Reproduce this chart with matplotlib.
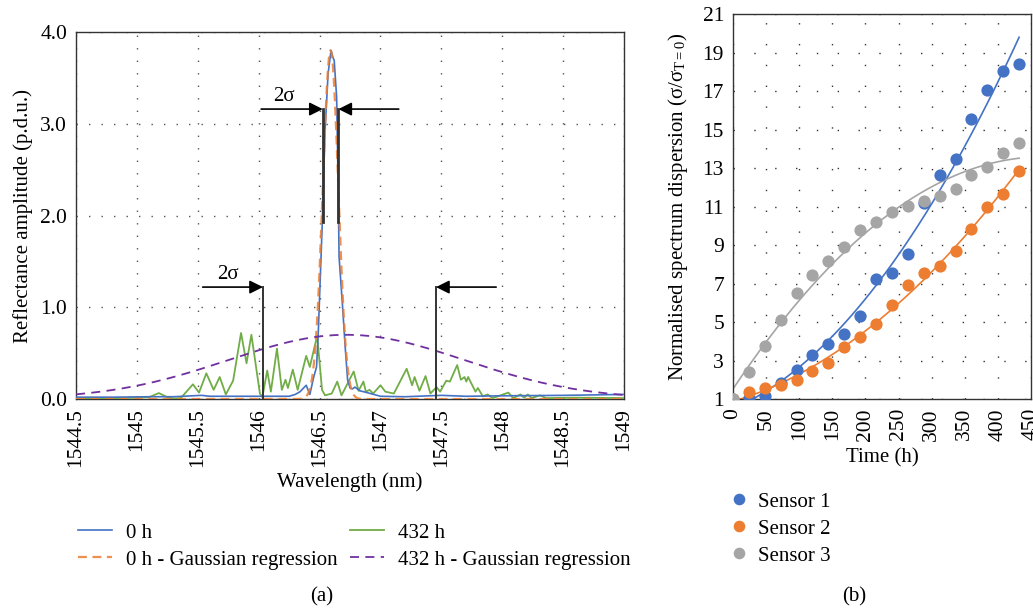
"""
Two panels: FBG reflectance spectra (a) and normalised spectrum dispersion vs time (b).
"""

import matplotlib.pyplot as plt
import numpy as np

plt.rcParams['font.family'] = ['Liberation Serif', 'DejaVu Serif']
plt.rcParams['mathtext.fontset'] = 'stix'

# ---- data: panel (a) ----
wl_0h = [1544.5, 1544.8, 1545.1, 1545.3, 1545.53, 1545.6, 1545.9, 1546.1, 1546.25,
         1546.3, 1546.34, 1546.39, 1546.42, 1546.45, 1546.475, 1546.49, 1546.505,
         1546.52, 1546.545, 1546.57, 1546.594, 1546.61, 1546.62, 1546.64, 1546.654,
         1546.66, 1546.687, 1546.71, 1546.73, 1546.75, 1546.77, 1546.79, 1546.83,
         1546.89, 1547.0, 1547.2, 1547.5, 1547.7, 1548.0, 1548.5, 1549.0]
amp_0h = [0.02, 0.02, 0.025, 0.025, 0.04, 0.03, 0.03, 0.03, 0.03,
          0.05, 0.08, 0.15, 0.05, 0.23, 0.35, 0.75, 1.3,
          1.84, 2.93, 3.55, 3.80, 3.72, 3.69, 3.29, 2.2,
          1.55, 1.04, 0.57, 0.21, 0.12, 0.11, 0.13, 0.09,
          0.07, 0.03, 0.025, 0.04, 0.03, 0.035, 0.04, 0.05]

wl_432h = [1544.5, 1544.9, 1545.1, 1545.18, 1545.25, 1545.3, 1545.36, 1545.46, 1545.51,
           1545.57, 1545.63, 1545.68, 1545.73, 1545.79, 1545.855, 1545.90, 1545.94,
           1546.01, 1546.03, 1546.07, 1546.10, 1546.15, 1546.19, 1546.22, 1546.24,
           1546.28, 1546.32, 1546.39, 1546.42, 1546.48, 1546.52, 1546.545, 1546.60,
           1546.645, 1546.68, 1546.78, 1546.82, 1546.86, 1546.88, 1546.91, 1546.94,
           1547.00, 1547.04, 1547.11, 1547.215, 1547.26, 1547.28, 1547.32, 1547.37,
           1547.41, 1547.46, 1547.49, 1547.54, 1547.57, 1547.63, 1547.66, 1547.69,
           1547.705, 1547.72, 1547.78, 1547.80, 1547.84, 1547.88, 1547.92, 1548.05,
           1548.09, 1548.15, 1548.18, 1548.21, 1548.24, 1548.31, 1548.36, 1548.6, 1549.0]
amp_432h = [0.01, 0.01, 0.02, 0.065, 0.02, 0.005, 0.01, 0.16, 0.07,
            0.28, 0.10, 0.24, 0.05, 0.20, 0.72, 0.39, 0.70,
            0.06, 0.02, 0.31, 0.08, 0.55, 0.10, 0.21, 0.12,
            0.32, 0.10, 0.47, 0.35, 0.69, 0.10, 0.04, 0.06,
            0.19, 0.04, 0.30, 0.09, 0.19, 0.08, 0.10, 0.06,
            0.15, 0.08, 0.06, 0.33, 0.15, 0.24, 0.09, 0.25,
            0.06, 0.13, 0.08, 0.20, 0.19, 0.37, 0.21, 0.24,
            0.19, 0.24, 0.08, 0.12, 0.03, 0.05, 0.01, 0.07,
            0.01, 0.05, 0.015, 0.05, 0.01, 0.04, 0.01, 0.015, 0.01]

# Gaussian regression parameters (amplitude, centre, sigma)
gauss_0h = (3.80, 1546.59, 0.064)
gauss_432h = (0.70, 1546.72, 0.97)

# ---- data: panel (b) ----
time_h = [0, 24, 48, 72, 96, 120, 144, 168, 192, 216, 240, 264, 288, 312, 336, 360, 384, 408, 432]
sensor1 = [1.0, 1.03, 1.16, 1.85, 2.5, 3.29, 3.84, 4.36, 5.33, 7.25, 7.53, 8.53, 11.2,
           12.64, 13.45, 15.55, 17.05, 18.04, 18.4]
sensor2 = [1.0, 1.35, 1.55, 1.73, 1.99, 2.45, 2.89, 3.72, 4.2, 4.88, 5.87, 6.92, 7.56,
           7.93, 8.71, 9.85, 10.99, 11.65, 12.86]
sensor3 = [1.0, 2.39, 3.75, 5.1, 6.49, 7.44, 8.19, 8.88, 9.78, 10.21, 10.73, 11.04, 11.29,
           11.55, 11.93, 12.64, 13.07, 13.76, 14.32]

blue = '#4472C4'
orange = '#ED7D31'
green = '#70AD47'
purple = '#7030A0'
grey = '#A5A5A5'
spine_c = '#333333'
fs = 15
fs_tick = 15.5

fig = plt.figure(figsize=(10.33, 6.12), dpi=100)
fig.patch.set_facecolor('white')

# ══════════ panel (a) ══════════
ax1 = fig.add_axes([0.0736, 0.348, 0.5305, 0.5997])

def gauss(x, p):
    a, mu, s = p
    return a * np.exp(-(x - mu) ** 2 / (2 * s ** 2))

xx = np.linspace(1544.5, 1549.0, 1500)

l_0h, = ax1.plot(wl_0h, amp_0h, color=blue, lw=1.2, zorder=4)
l_432h, = ax1.plot(wl_432h, amp_432h, color=green, lw=1.3, zorder=3)
l_g0, = ax1.plot(xx, gauss(xx, gauss_0h), color=orange, lw=1.6, ls=(0, (4, 2.5)),
                 alpha=0.85, zorder=5)
l_g432, = ax1.plot(xx, gauss(xx, gauss_432h), color=purple, lw=1.3, ls=(0, (5, 3.5)),
                   zorder=5)

ax1.set_xlim(1544.5, 1549.0)
ax1.set_ylim(0, 4.0)
xt = np.arange(1544.5, 1549.01, 0.5)
ax1.set_xticks(xt)
ax1.set_xticklabels([f'{v:g}' for v in xt], rotation=90)
ax1.set_yticks([0, 1, 2, 3, 4])
ax1.set_yticklabels(['0.0', '1.0', '2.0', '3.0', '4.0'])
ax1.tick_params(length=0, labelsize=fs_tick, pad=6.5)
ax1.grid(True, color='#555555', lw=1.0, ls=(0, (1, 8)))
for s in ax1.spines.values():
    s.set_color(spine_c)
    s.set_linewidth(1.0)
ax1.set_xlabel('Wavelength (nm)', fontsize=fs)
ax1.set_ylabel('Reflectance amplitude (p.d.u.)', fontsize=fs)
ax1.xaxis.set_label_coords(0.5, -0.199)
ax1.yaxis.set_label_coords(-0.0785, 0.5)

# 2σ markers
arr = dict(arrowstyle='-|>', color='black', lw=1.2, mutation_scale=20, shrinkA=0, shrinkB=0)
ax1.plot([1546.526, 1546.526], [1.93, 3.16], color=spine_c, lw=2, zorder=6)
ax1.plot([1546.654, 1546.654], [1.93, 3.16], color=spine_c, lw=2, zorder=6)
ax1.annotate('', xy=(1546.526, 3.16), xytext=(1546.02, 3.16), arrowprops=arr)
ax1.annotate('', xy=(1546.654, 3.16), xytext=(1547.15, 3.16), arrowprops=arr)
ax1.text(1546.21, 3.3, '2σ', fontsize=fs, ha='center', va='center')

ax1.plot([1546.035, 1546.035], [0, 1.22], color=spine_c, lw=1.4, zorder=6)
ax1.plot([1547.456, 1547.456], [0, 1.22], color=spine_c, lw=1.4, zorder=6)
ax1.annotate('', xy=(1546.035, 1.22), xytext=(1545.54, 1.22), arrowprops=arr)
ax1.annotate('', xy=(1547.456, 1.22), xytext=(1547.95, 1.22), arrowprops=arr)
ax1.text(1545.75, 1.36, '2σ', fontsize=fs, ha='center', va='center')

fig.legend([l_0h, l_g0, l_432h, l_g432],
           ['0 h', '0 h - Gaussian regression', '432 h', '432 h - Gaussian regression'],
           ncol=2, loc='upper left', bbox_to_anchor=(78 / 1033, 1 - 523 / 612),
           frameon=False, fontsize=fs, handlelength=1.63, handletextpad=0.67,
           columnspacing=0.58, labelspacing=0.36, borderpad=0, borderaxespad=0)
fig.text(322 / 1033, 1 - 597 / 612, '(a)', fontsize=fs, ha='center', va='center')

# ══════════ panel (b) ══════════
ax2 = fig.add_axes([0.7096, 0.348, 0.2885, 0.629])

tt = np.linspace(0, 432, 200)
for vals, c in [(sensor1, blue), (sensor2, orange), (sensor3, grey)]:
    coef = np.polyfit(time_h, vals, 2)
    ax2.plot(tt, np.polyval(coef, tt), color=c, lw=1.2, zorder=2)

ms = 8.8
h1, = ax2.plot(time_h, sensor1, 'o', color=blue, ms=ms, mew=0, zorder=3)
h2, = ax2.plot(time_h, sensor2, 'o', color=orange, ms=ms, mew=0, zorder=4)
h3, = ax2.plot(time_h, sensor3, 'o', color=grey, ms=ms, mew=0, zorder=5)

ax2.set_xlim(0, 450)
ax2.set_ylim(1, 21)
ax2.set_xticks(np.arange(0, 451, 50))
ax2.tick_params(axis='x', rotation=90)
ax2.set_yticks(np.arange(1, 22, 2))
ax2.tick_params(length=0, labelsize=fs_tick, pad=6.5)
ax2.grid(True, color='#333333', lw=1.0, ls=(0, (1, 14)))
for s in ax2.spines.values():
    s.set_color(spine_c)
    s.set_linewidth(1.0)
ax2.set_xlabel('Time (h)', fontsize=fs)
ax2.set_ylabel('Normalised spectrum dispersion (σ/σ$_{\\mathregular{T=0}}$)', fontsize=fs)
ax2.xaxis.set_label_coords(0.5, -0.127)
ax2.yaxis.set_label_coords(-0.145, 0.5)

fig.legend([h1, h2, h3], ['Sensor 1', 'Sensor 2', 'Sensor 3'],
           loc='upper left', bbox_to_anchor=(728.6 / 1033, 1 - 492 / 612),
           frameon=False, fontsize=fs, handlelength=1.0, handletextpad=0.41,
           labelspacing=0.36, borderpad=0, borderaxespad=0, markerscale=0.95)
fig.text(854 / 1033, 1 - 597 / 612, '(b)', fontsize=fs, ha='center', va='center')

fig.savefig('out.png', dpi=100, facecolor='white')
